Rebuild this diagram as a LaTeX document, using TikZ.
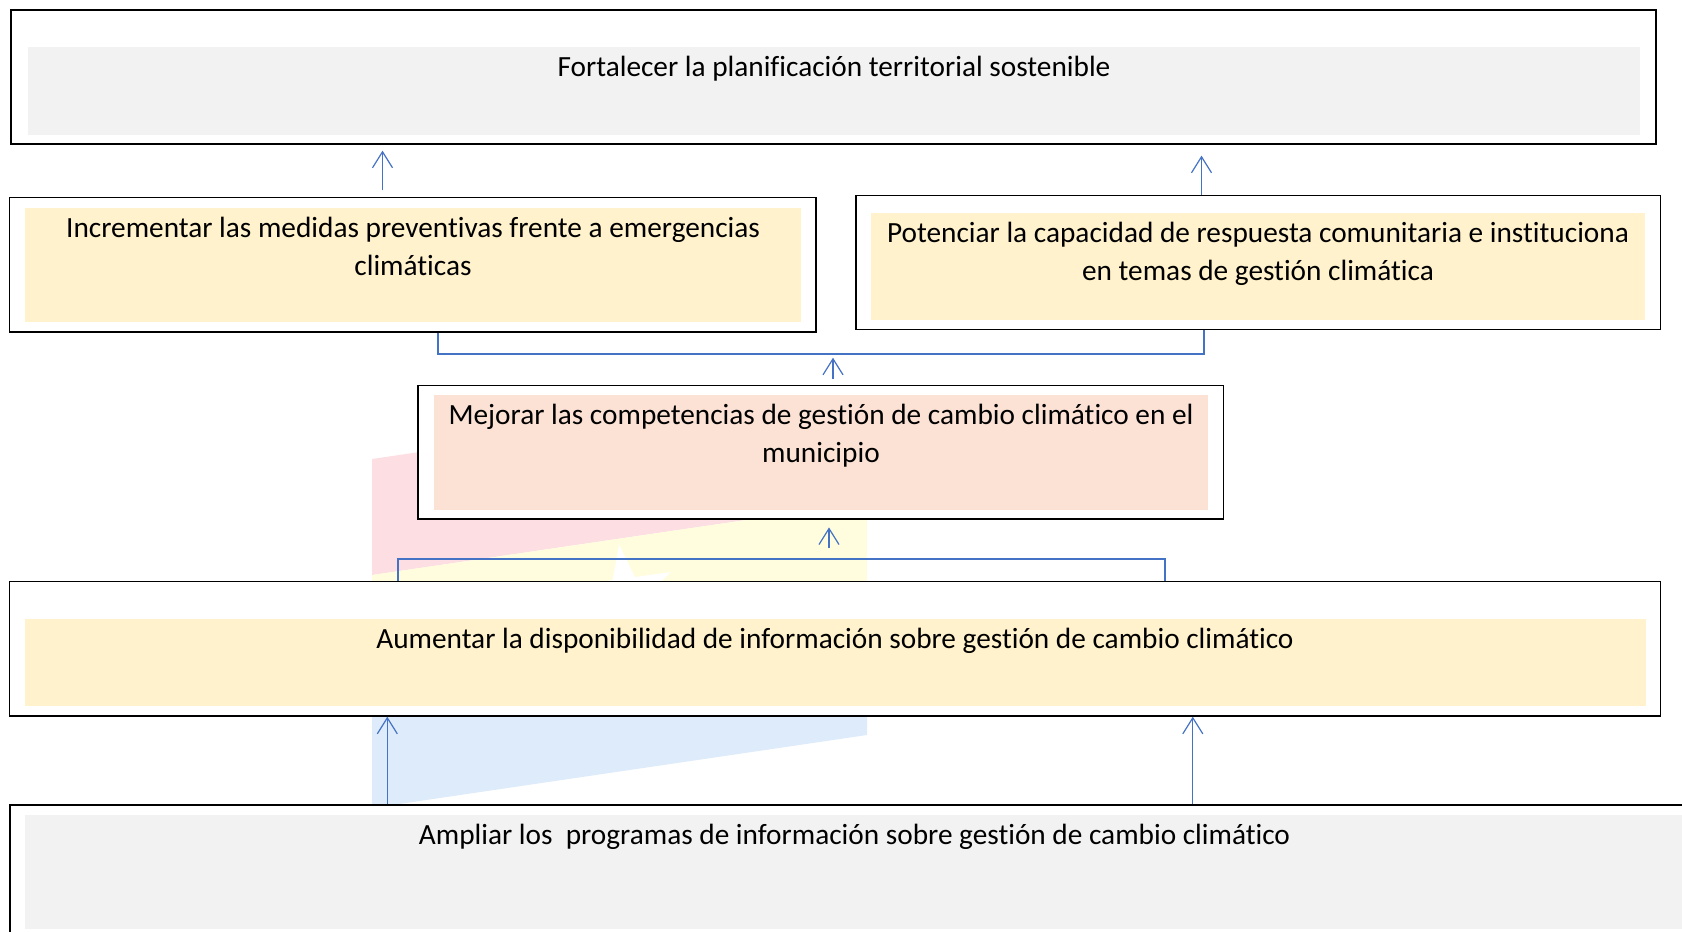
\documentclass[tikz,border=0pt]{standalone}
\usepackage{fontspec}
\setmainfont{Carlito}[Ligatures=NoCommon]
\usetikzlibrary{arrows.meta,shapes.geometric}
\definecolor{wpink}{RGB}{253,222,227}
\definecolor{wyellow}{RGB}{255,253,221}
\definecolor{wblue}{RGB}{221,235,250}
\definecolor{fillgrey}{RGB}{242,242,242}
\definecolor{fillyellow}{RGB}{255,242,204}
\definecolor{fillpeach}{RGB}{251,226,213}
\definecolor{conblue}{RGB}{68,114,196}
\begin{document}
\begin{tikzpicture}[x=1pt,y=-1pt,
  outerbox/.style={rectangle, draw=black, line width=1.3pt, fill=white, inner sep=0pt},
  innerfill/.style={rectangle, draw=none, inner sep=0pt},
  boxlabel/.style={font=\fontsize{29.3}{38.4}\selectfont, align=center, inner sep=0pt, anchor=base},
  conn/.style={draw=conblue, line width=1.2pt},
  arr/.style={conn, -{Straight Barb[length=16pt,width=20pt]}},
]
\clip (0,0) rectangle (1682,932);
% watermark
\fill[wpink] (372,459) -- (867,386.2) -- (867,502.2) -- (372,575) -- cycle;
\fill[wyellow] (372,575) -- (867,502.2) -- (867,627) -- (372,700) -- cycle;
\fill[wblue] (372,700) -- (867,627) -- (867,735) -- (372,808) -- cycle;
\node[star, star points=5, star point ratio=2.6, fill=white, draw=none, minimum size=100pt, inner sep=0pt, rotate=8] (wstar) at (626,594) {};
% boxes
\node[outerbox, minimum width=1645pt, minimum height=134pt] (A) at (833.5,77) {};
\node[innerfill, fill=fillgrey, minimum width=1612pt, minimum height=88pt] (Ain) at (834,91) {};
\node[boxlabel] (At) at (834,76) {Fortalecer la planificación territorial sostenible};

\node[outerbox, minimum width=806.3pt, minimum height=134.3pt] (B) at (412.9,264.9) {};
\node[innerfill, fill=fillyellow, minimum width=776pt, minimum height=113.7pt] (Bin) at (413,264.9) {};
\node[boxlabel] (Bt) at (413,275.4) {Incrementar las medidas preventivas frente a emergencias\\climáticas};

\node[outerbox, minimum width=804.5pt, minimum height=134pt] (C) at (1258.25,262.7) {};
\node[innerfill, fill=fillyellow, minimum width=774pt, minimum height=106.7pt] (Cin) at (1258,266.4) {};
\node[boxlabel] (Ct) at (1258,280.4) {Potenciar la capacidad de respuesta comunitaria e instituciona\\en temas de gestión climática};

\node[outerbox, minimum width=805.5pt, minimum height=133.3pt] (D) at (820.8,452.4) {};
\node[innerfill, fill=fillpeach, minimum width=774pt, minimum height=115pt] (Din) at (821,452.5) {};
\node[boxlabel] (Dt) at (821,462.4) {Mejorar las competencias de gestión de cambio climático en el\\municipio};

\node[outerbox, minimum width=1650.8pt, minimum height=134.3pt] (E) at (835.2,648.9) {};
\node[innerfill, fill=fillyellow, minimum width=1620.6pt, minimum height=86.7pt] (Ein) at (835.3,662.4) {};
\node[boxlabel] (Et) at (835,648) {Aumentar la disponibilidad de información sobre gestión de cambio climático};

\node[outerbox, minimum width=1690pt, minimum height=140pt] (F) at (855,875) {};
\node[innerfill, fill=fillgrey, minimum width=1659pt, minimum height=113.7pt] (Fin) at (854.5,871.9) {};
\node[boxlabel] (Ft) at (854.5,844) {Ampliar los\ \ programas de información sobre gestión de cambio climático};

% connectors
\coordinate (xBA) at (382.5,0);
\coordinate (xCA) at (1201.5,0);
\draw[arr, shorten <=6.7pt, shorten >=6pt] (B.north -| xBA) -- (A.south -| xBA);
\draw[arr, shorten >=11pt] (C.north -| xCA) -- (A.south -| xCA);

\coordinate (bar1) at (833,354);
\coordinate (xb1l) at (438,0);
\coordinate (xb1r) at (1204,0);
\draw[conn] (B.south -| xb1l) |- (bar1) -| (C.south -| xb1r);
\draw[arr, shorten <=6pt, shorten >=3.7pt] (D.north -| bar1) -- (bar1);

\coordinate (bar2) at (829,559);
\coordinate (xb2l) at (398,0);
\coordinate (xb2r) at (1165,0);
\draw[conn] (E.north -| xb2l) |- (bar2) -| (E.north -| xb2r);
\draw[arr, shorten <=11pt, shorten >=7.7pt] (bar2) -- (D.south -| bar2);

\coordinate (xFE1) at (387.3,0);
\coordinate (xFE2) at (1192.8,0);
\draw[arr] (F.north -| xFE1) -- (E.south -| xFE1);
\draw[arr] (F.north -| xFE2) -- (E.south -| xFE2);
\end{tikzpicture}
\end{document}
